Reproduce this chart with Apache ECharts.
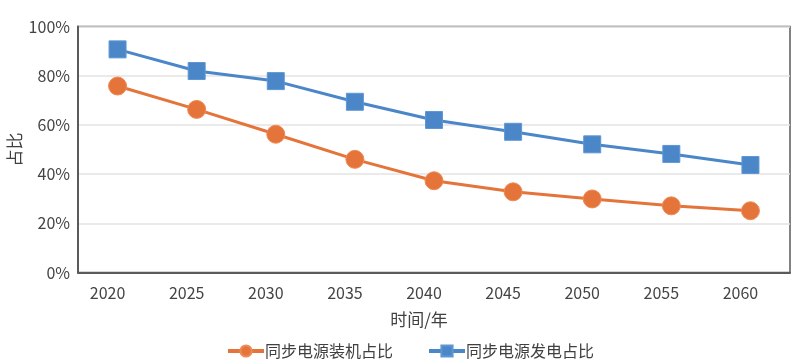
<!DOCTYPE html>
<html>
<head>
<meta charset="utf-8">
<script src="https://cdn.jsdelivr.net/npm/echarts@6/dist/echarts.min.js"></script>
<style>html,body{margin:0;padding:0;background:#fff}#c{width:800px;height:363px}</style>
</head>
<body>
<div id="c"></div>
<script>
var years = ['2020','2025','2030','2035','2040','2045','2050','2055','2060'];
var installedShare = [75.8, 66.3, 56.2, 46.0, 37.3, 32.8, 29.9, 27.1, 25.1];
var generationShare = [90.7, 81.9, 77.8, 69.4, 62.0, 57.2, 52.1, 48.2, 43.7];
var seriesNames = ['同步电源装机占比', '同步电源发电占比'];
var yTicks = [0, 20, 40, 60, 80, 100];

var font = '"Noto Sans CJK SC", "Noto Sans", sans-serif';
var chart = echarts.init(document.getElementById('c'), null, {renderer: 'canvas'});
chart.setOption({
  backgroundColor: '#fff',
  animation: false,
  textStyle: {fontFamily: font},
  grid: {left: 78, right: 10, top: 26.5, bottom: 90.5, show: true, borderColor: '#5a5a5a', borderWidth: 1.5, containLabel: false, outerBoundsMode: 'none'},
  legend: {
    left: 221, top: 338,
    itemWidth: 36, itemHeight: 14, itemGap: 34,
    lineStyle: {width: 4},
    textStyle: {fontSize: 16, color: '#404040', fontFamily: font, padding: [0, 0, 0, -4]},
    data: seriesNames
  },
  xAxis: {
    type: 'category',
    data: years,
    boundaryGap: true,
    name: '时间/年',
    nameLocation: 'middle',
    nameGap: 39,
    nameMoveOverlap: false,
    nameTextStyle: {fontSize: 17, color: '#404040', padding: [0, 30, 0, 0]},
    axisLine: {lineStyle: {color: '#5a5a5a', width: 2}},
    axisTick: {show: false},
    axisLabel: {fontSize: 16, color: '#444', margin: 12, padding: [0, 20, 0, 0]}
  },
  yAxis: {
    type: 'value',
    min: 0, max: 100, interval: 20,
    name: '占比',
    nameLocation: 'middle',
    nameGap: 55,
    nameMoveOverlap: false,
    nameTextStyle: {fontSize: 17, color: '#404040'},
    axisLine: {show: true, lineStyle: {color: '#5a5a5a', width: 2}},
    axisTick: {show: false},
    axisLabel: {fontSize: 16, color: '#444', margin: 8, formatter: function (v) { return yTicks.indexOf(v) >= 0 ? v + '%' : ''; }},
    splitLine: {lineStyle: {color: '#e3e3e3', width: 1.5}}
  },
  series: [
    {
      name: seriesNames[0], type: 'line', data: installedShare,
      symbol: 'circle', symbolSize: 18,
      lineStyle: {color: '#E5743A', width: 3},
      itemStyle: {color: '#E5743A', borderColor: '#EE8A55', borderWidth: 1}
    },
    {
      name: seriesNames[1], type: 'line', data: generationShare,
      symbol: 'rect', symbolSize: 17,
      lineStyle: {color: '#4A86C8', width: 3},
      itemStyle: {color: '#4A86C8', borderColor: '#5E97D3', borderWidth: 1}
    }
  ]
});
</script>
</body>
</html>
